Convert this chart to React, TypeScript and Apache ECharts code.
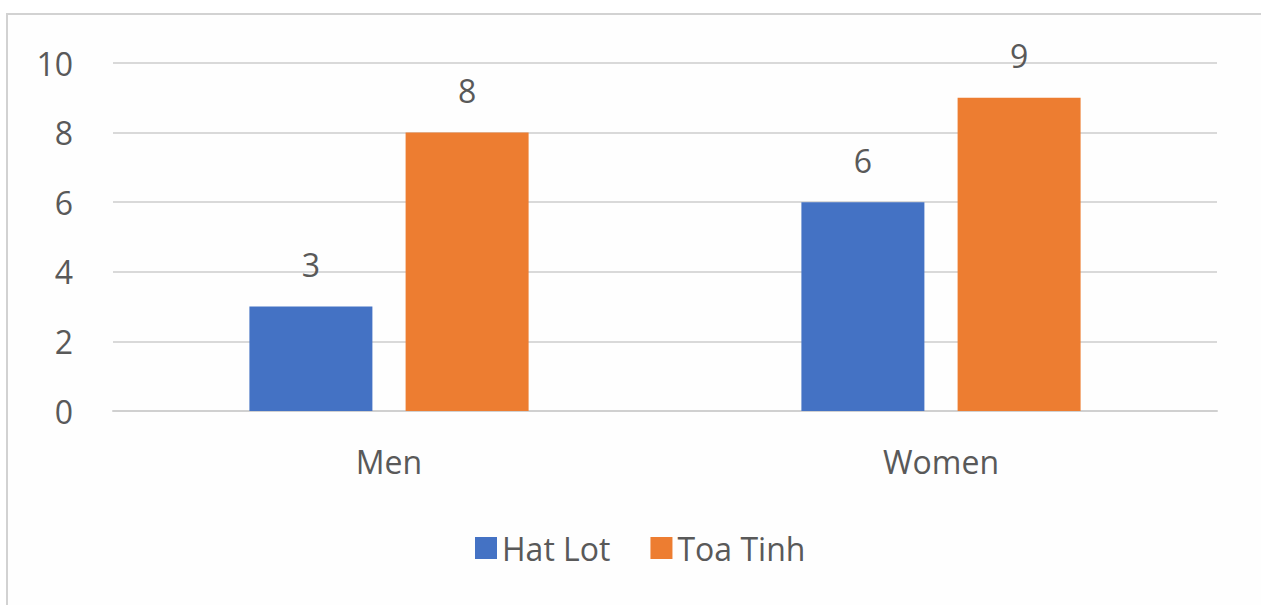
import React, { useEffect, useRef } from "react";
import * as echarts from "echarts";

// Survey counts by group
const categories = ["Men", "Women"];
const hatLot = [3, 6];
const toaTinh = [8, 9];
const seriesNames = ["Hat Lot", "Toa Tinh"];

const FONT = "'Open Sans', 'Liberation Sans', sans-serif";
const TEXT = "#595959";

export default function App() {
  const ref = useRef<HTMLDivElement>(null);

  useEffect(() => {
    if (!ref.current) return;
    const chart = echarts.init(ref.current, undefined, { renderer: "svg" });
    const label = {
      show: true,
      position: "top" as const,
      distance: 26,
      color: TEXT,
      fontSize: 32,
      fontFamily: FONT,
    };
    chart.setOption({
      animation: false,
      backgroundColor: "#ffffff",
      textStyle: { fontFamily: FONT },
      graphic: [
        {
          type: "rect",
          shape: { x: 7, y: 14, width: 1300, height: 640 },
          style: { fill: "#fefefe", stroke: "#d2d2d2", lineWidth: 2 },
          z: -10,
          silent: true,
        },
      ],
      grid: { left: 113, right: 44, top: 63, bottom: 194, containLabel: false },
      legend: {
        left: 470,
        top: 527,
        itemWidth: 22,
        itemHeight: 22,
        itemGap: 40,
        icon: "rect",
        textStyle: { color: TEXT, fontSize: 32, fontFamily: FONT, padding: [0, 0, 0, 0] },
        data: seriesNames,
      },
      xAxis: {
        type: "category",
        data: categories,
        axisLine: { lineStyle: { color: "#d0d0d0", width: 2 } },
        axisTick: { show: false },
        axisLabel: { color: TEXT, fontSize: 32, fontFamily: FONT, margin: 34 },
      },
      yAxis: {
        type: "value",
        min: 0,
        max: 10,
        interval: 2,
        axisLine: { show: false },
        axisTick: { show: false },
        splitLine: { lineStyle: { color: "#d9d9d9", width: 2 } },
        axisLabel: { color: TEXT, fontSize: 32, fontFamily: FONT, margin: 40 },
      },
      series: [
        {
          name: seriesNames[0],
          type: "bar",
          data: hatLot,
          barWidth: 123,
          barGap: "27%",
          itemStyle: { color: "#4472C4" },
          label,
        },
        {
          name: seriesNames[1],
          type: "bar",
          data: toaTinh,
          barWidth: 123,
          itemStyle: { color: "#ED7D31" },
          label,
        },
      ],
    });
    return () => chart.dispose();
  }, []);

  return (
    <div
      ref={ref}
      style={{ position: "fixed", left: 0, top: 0, width: 1261, height: 605 }}
    />
  );
}
